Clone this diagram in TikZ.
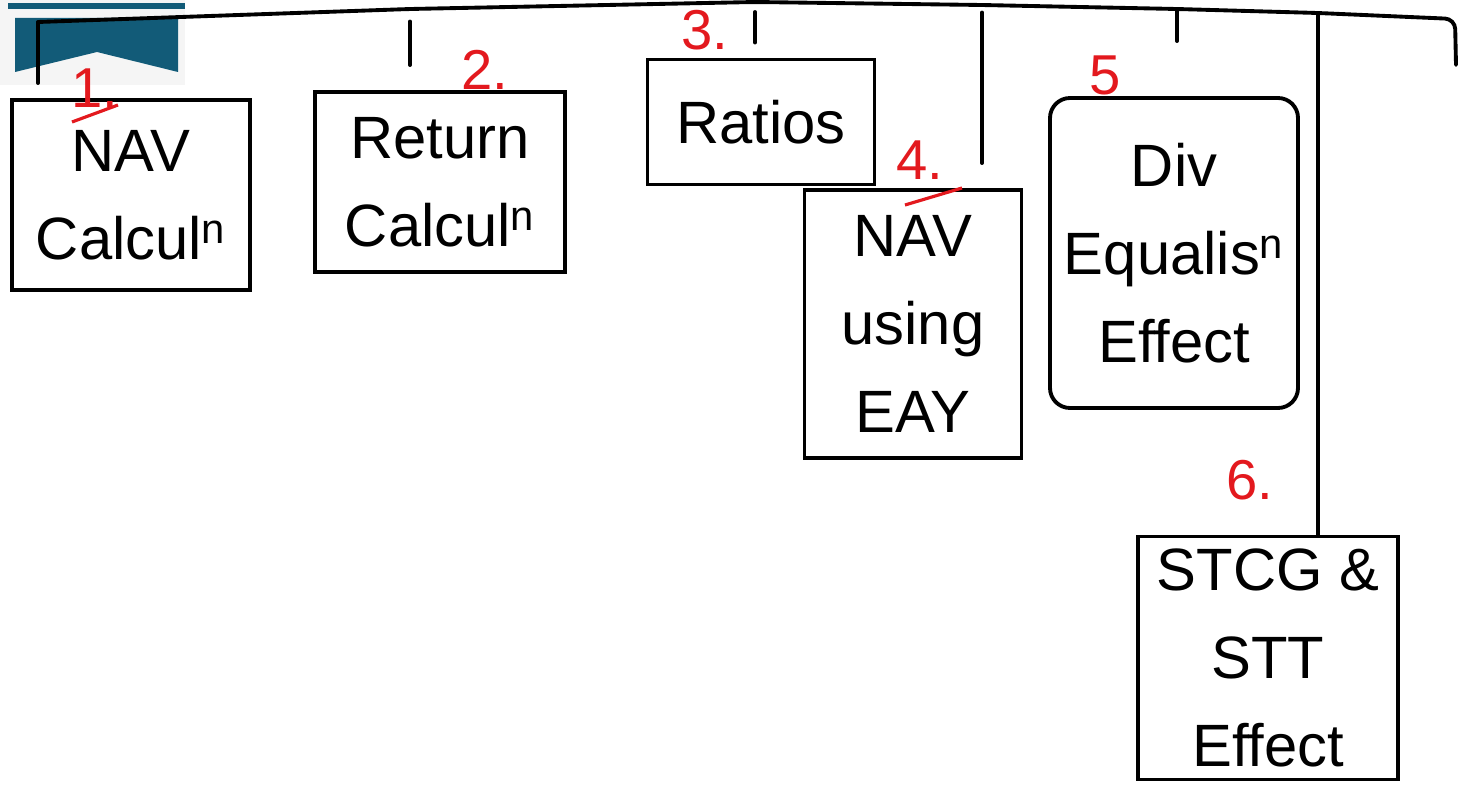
\documentclass[tikz,border=0pt]{standalone}
\usepackage{fontspec}
\setmainfont{Liberation Sans}
\usepackage{tikz}
\definecolor{InkRed}{HTML}{E3191E}
\definecolor{LogoBlue}{HTML}{125B78}
\tikzset{topic box/.style={draw, line width=2.2pt, inner sep=0pt, align=center, font=\fontsize{34}{50}\selectfont}}
\tikzset{topic number/.style={text=InkRed, inner sep=0pt, font=\fontsize{32}{36}\selectfont}}
\tikzset{branch/.style={line width=2.2pt, line cap=round}}

\begin{document}
\begin{tikzpicture}
\useasboundingbox (0mm,0mm) rectangle (292.4mm,-157.4mm);

% logo
\fill[black!4] (0mm,0mm) rectangle (37mm,-17mm);
\fill[LogoBlue] (1.6mm,-0.6mm) rectangle (37mm,-1.8mm);
\fill[LogoBlue] (3mm,-3.6mm) -- (35.6mm,-3.6mm) -- (35.6mm,-14.4mm) -- (19.4mm,-10.4mm) -- (3mm,-14.4mm) -- cycle;

\node[topic box, minimum width=47.6mm, minimum height=38mm] (nav) at (26.2mm,-39mm) {NAV\\Calcul\textsuperscript{n}};
\node[topic box, minimum width=50mm, minimum height=36mm] (ret) at (88mm,-36.4mm) {Return\\Calcul\textsuperscript{n}};
\node[topic box, minimum width=45.4mm, minimum height=25mm] (rat) at (152.2mm,-24.4mm) {Ratios};
\node[topic box, minimum width=43.4mm, minimum height=53.6mm] (eay) at (182.6mm,-64.8mm) {NAV\\using\\EAY};
\node[topic box, rounded corners=4mm, minimum width=49.6mm, minimum height=62mm] (div) at (234.8mm,-50.6mm) {Div\\Equalis\textsuperscript{n}\\Effect};
\node[topic box, minimum width=52mm, minimum height=48.6mm] (stcg) at (253.6mm,-131.6mm) {STCG \&\\STT\\Effect};

% numbering
\node[topic number] (n1) at (19mm,-17.6mm) {1.};
\node[topic number] (n2) at (97mm,-14mm) {2.};
\node[topic number] (n3) at (141mm,-6mm) {3.};
\node[topic number] (n4) at (184mm,-32mm) {4.};
\node[topic number] (n5) at (221mm,-15mm) {5};
\node[topic number] (n6) at (250mm,-96mm) {6.};
\draw[InkRed, line width=1.8pt] (14.4mm,-24.4mm) -- (23.6mm,-21mm);
\draw[InkRed, line width=1.8pt] (181mm,-41mm) -- (192.4mm,-37.6mm);

% top rail
\coordinate (r1) at (7.6mm,-4.4mm);
\coordinate (r2) at (82mm,-1.8mm);
\coordinate (r3) at (151mm,-0.4mm);
\coordinate (r4) at (196.4mm,-1mm);
\coordinate (r5) at (235.4mm,-1.8mm);
\coordinate (r6) at (263.6mm,-2.6mm);
\coordinate (r7) at (291mm,-3.8mm);
\coordinate (railend) at (291.2mm,-13mm);
\draw[branch, rounded corners=2mm] (r1) -- (r2) -- (r3) -- (r4) -- (r5) -- (r6) -- (r7) -- (railend);

\draw[branch, shorten >=3mm] (r1) -- (r1 |- nav.north);
\draw[branch, shorten <=2.5mm, shorten >=5mm] (r2) -- (r2 |- ret.north);
\draw[branch, shorten <=2mm, shorten >=3mm] (r3) -- (r3 |- rat.north);
\draw[branch, shorten <=1.5mm, shorten >=5mm] (r4) -- (r4 |- eay.north);
\draw[branch, shorten <=0.5mm, shorten >=11mm] (r5) -- (r5 |- div.north);
\draw[branch] (r6) -- (r6 |- stcg.north);

\end{tikzpicture}
\end{document}
